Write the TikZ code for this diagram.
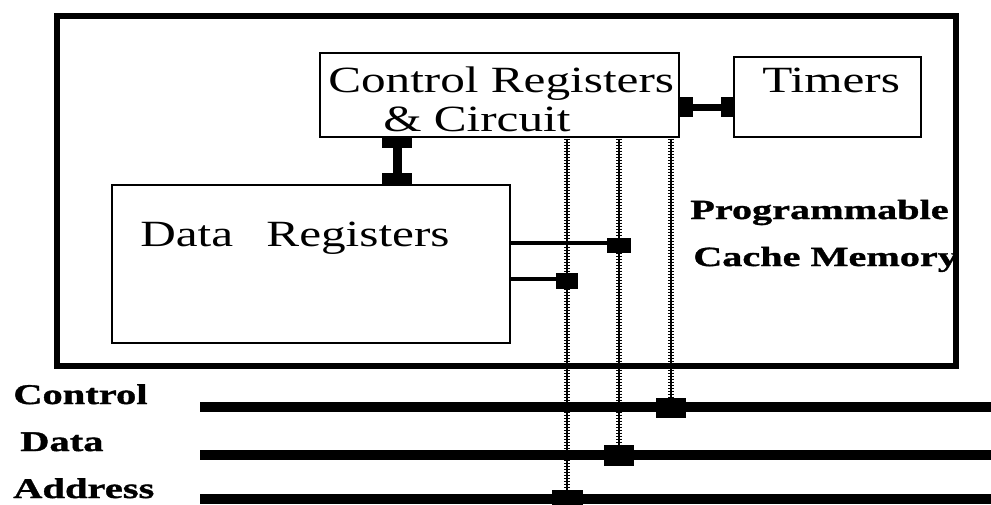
\documentclass[tikz,border=0pt]{standalone}
\usepackage{fontspec}
\setmainfont{Liberation Serif}
\newfontfamily\boxfont[FakeStretch=1.33]{Liberation Serif}
\newfontfamily\labfont[FakeStretch=1.45,FakeBold=1.2]{Liberation Serif}
\newfontfamily\buslabfont[FakeStretch=1.42,FakeBold=1.2]{Liberation Serif}
\newlength\pxu \setlength\pxu{0.75pt}
\begin{document}
\begin{tikzpicture}[x=0.75pt,y=-0.75pt,
  outerbox/.style={draw, line width=6.5\pxu, inner sep=0, outer sep=0},
  box/.style={draw, line width=2.5\pxu, inner sep=0, outer sep=0},
  blk/.style={fill=black, draw=none, inner sep=0, outer sep=0},
  bus/.style={line width=10\pxu},
  hatch/.style={line width=6\pxu, dash pattern=on 1.5\pxu off 1.5\pxu,
     preaction={draw, solid, line width=2.2\pxu}},
  boxtxt/.style={inner sep=0, anchor=base west, font=\boxfont\fontsize{27.75}{32}\selectfont},
  labtxt/.style={inner sep=0, anchor=base west, font=\labfont\bfseries\fontsize{20.8}{24}\selectfont},
  bustxt/.style={inner sep=0, anchor=base west, font=\buslabfont\bfseries\fontsize{21.4}{25}\selectfont}
]
\useasboundingbox (0,0) rectangle (991,504);

% boxes
\node[outerbox, minimum width=899\pxu, minimum height=350\pxu] (chip) at (506.5,191) {};
\node[box, minimum width=359\pxu, minimum height=84\pxu] (cr) at (499.5,95) {};
\node[box, minimum width=187\pxu, minimum height=80\pxu] (tim) at (827.5,97) {};
\node[box, minimum width=398\pxu, minimum height=158\pxu] (dr) at (311,264) {};

% texts
\node[boxtxt] (crt1) at (328,92) {Control Registers};
\node[boxtxt] (crt2) at (383,131) {\&\ Circuit};
\node[boxtxt] (timt) at (762,92) {Timers};
\node[boxtxt] (drt) at (140,246) {Data\hspace{21\pxu} Registers};
\node[labtxt] (pc1) at (690,219) {Programmable};
\node[labtxt] (pc2) at (693,266) {Cache Memory};
\node[bustxt] (lctl) at (13,404) {Control};
\node[bustxt] (ldat) at (20,451) {Data};
\node[bustxt] (ladr) at (13,498) {Address};

% CR <-> DR connector
\node[blk, minimum width=30\pxu, minimum height=12\pxu] (bcr) at (397,142) {};
\node[blk, minimum width=30\pxu, minimum height=12\pxu] (bdr) at (397,179) {};
\draw[line width=9\pxu] (bcr.center) -- (bdr.center);

% CR <-> Timers connector
\node[blk, minimum width=13\pxu, minimum height=20\pxu] (bcl) at (686,107) {};
\node[blk, minimum width=13\pxu, minimum height=20\pxu] (btl) at (727,107) {};
\draw[line width=7\pxu] (bcl.center) -- (btl.center);

% bus lines
\coordinate (ctlL) at (200,407);
\coordinate (ctlR) at (991,407);
\coordinate (datL) at (200,455);
\coordinate (datR) at (991,455);
\coordinate (adrL) at (200,499);
\coordinate (adrR) at (991,499);
\draw[bus] (ctlL) -- (ctlR);
\draw[bus] (datL) -- (datR);
\draw[bus] (adrL) -- (adrR);

% bus taps
\node[blk, minimum width=30\pxu, minimum height=20\pxu] (tctl) at (671,408) {};
\node[blk, minimum width=30\pxu, minimum height=21\pxu] (tdat) at (619,455) {};
\node[blk, minimum width=31\pxu, minimum height=18\pxu] (tadr) at (567,499) {};

% DR taps
\node[blk, minimum width=24\pxu, minimum height=15\pxu] (d1) at (619,245) {};
\node[blk, minimum width=22\pxu, minimum height=16\pxu] (d2) at (567,281) {};

% vertical hatched lines from CR
\coordinate (vA) at (567,138.5);
\coordinate (vB) at (619,138.5);
\coordinate (vC) at (671,138.5);
\draw[hatch] (vA) -- (tadr);
\draw[hatch] (vB) -- (tdat);
\draw[hatch] (vC) -- (tctl);

% DR horizontal lines
\draw[line width=3.5\pxu] (dr.east |- 0,243) -- (d1.west |- 0,243);
\draw[line width=3.5\pxu] (dr.east |- 0,279) -- (d2.west |- 0,279);
\end{tikzpicture}
\end{document}
